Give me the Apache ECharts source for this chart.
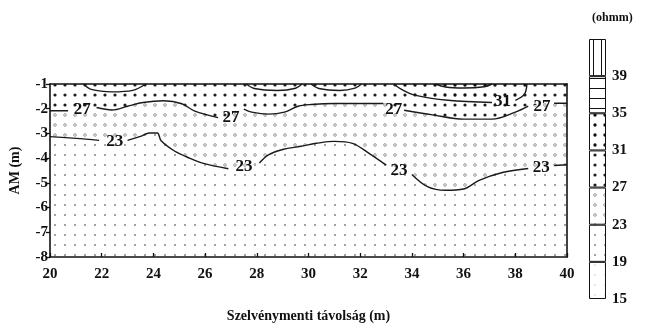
<!DOCTYPE html>
<html>
<head>
<meta charset="utf-8">
<title>AM szelvény</title>
<script src="https://cdn.jsdelivr.net/npm/echarts@6/dist/echarts.min.js"></script>
<style>
	html, body { margin: 0; padding: 0; background: #fff; }
	#chart { width: 653px; height: 328px; }
</style>
</head>
<body>
<div id="chart"></div>
<script>
// tengelyek
var xTicks = [20, 22, 24, 26, 28, 30, 32, 34, 36, 38, 40];
var yTicks = [-8, -7, -6, -5, -4, -3, -2, -1];
var legendTicks = [15, 19, 23, 27, 31, 35, 39];
var legendEdges = [15, 19, 23, 27, 31, 35, 39, 43];

// 23 ohmm izovonal (a feliratoknal megszakad)
var c23 = [
	[[20, -3.13], [21, -3.2], [21.9, -3.28]],
	[[23.0, -3.28], [23.5, -3.12], [23.85, -2.98], [24.15, -2.98], [24.3, -3.3], [24.8, -3.7], [25.4, -4.0], [25.9, -4.2], [26.9, -4.43]],
	[[28.1, -4.2], [28.45, -3.87], [29.0, -3.65], [29.7, -3.52], [30.3, -3.4], [31.0, -3.32], [31.7, -3.4], [32.4, -3.85], [33.0, -4.28]],
	[[34.0, -4.66], [34.6, -5.15], [35.3, -5.3], [36.0, -5.25], [36.6, -4.9], [37.5, -4.58], [38.5, -4.42]],
	[[39.5, -4.3], [40, -4.27]]
];
var c23Labels = [[22.5, -3.32], [27.5, -4.33], [33.5, -4.5], [39.0, -4.4]];

// 27 ohmm izovonal
var c27 = [
	[[20, -2.08], [20.7, -2.08]],
	[[21.8, -1.95], [22.4, -2.05], [23.0, -1.9], [23.6, -1.75], [24.4, -1.68], [25.1, -1.8], [25.6, -2.1], [26.5, -2.36]],
	[[27.5, -2.02], [27.8, -2.14], [28.45, -2.22], [29.07, -2.14], [29.6, -1.9], [30.1, -1.83], [31.0, -1.79], [32.9, -1.79]],
	[[33.7, -2.06], [34.8, -2.25], [36.0, -2.42], [37.1, -2.42], [38.0, -2.14], [38.5, -1.9]],
	[[39.5, -1.78], [40, -1.78]]
];
var c27Labels = [[21.25, -2.02], [27.0, -2.34], [33.3, -2.02], [39.03, -1.9]];

// 31 ohmm izovonal (felul zart)
var c31 = [
	[[33.3, -1.0], [33.6, -1.22], [34.1, -1.45], [35.4, -1.66], [37.1, -1.75]],
	[[38.0, -1.66], [38.35, -1.42], [38.45, -1.0]]
];
var c31Labels = [[37.5, -1.7]];

// felirat nelkuli kis zart gorbek a felszin kozeleben
var topLoops = [
	[[21.3, -1], [21.6, -1.22], [22.4, -1.32], [23.2, -1.26], [23.7, -1]],
	[[27.6, -1], [27.9, -1.18], [28.8, -1.26], [29.5, -1.17], [29.75, -1]],
	[[30.1, -1], [30.4, -1.18], [31.2, -1.26], [31.8, -1.17], [32.05, -1]],
	[[34.9, -1], [35.3, -1.12], [36.0, -1.16], [36.8, -1.11], [37.1, -1]]
];

// mintazatok (pontozas, vonalkazas)
function tile(size, draw) {
	var c = document.createElement('canvas');
	c.width = size; c.height = size;
	var g = c.getContext('2d');
	g.fillStyle = '#fff';
	g.fillRect(0, 0, size, size);
	draw(g);
	return { image: c, repeat: 'repeat' };
}
function dot(r, col) {
	return function (g) { g.fillStyle = col; g.beginPath(); g.arc(5, 5, r, 0, Math.PI * 2); g.fill(); };
}
var pat = {
	faint: tile(10, dot(0.7, '#bdbdbd')),
	low: tile(10, dot(1.0, '#858585')),
	mid: tile(10, function (g) {
		g.strokeStyle = '#9a9a9a'; g.lineWidth = 1;
		g.beginPath(); g.arc(5, 5, 1.3, 0, Math.PI * 2); g.stroke();
	}),
	high: tile(10, dot(1.6, '#1e1e1e')),
	top: tile(10, dot(1.7, '#111')),
	hLines: tile(10, function (g) {
		g.strokeStyle = '#111'; g.lineWidth = 1;
		g.beginPath(); g.moveTo(0, 8.5); g.lineTo(10, 8.5); g.stroke();
	}),
	vLines: tile(8, function (g) {
		g.strokeStyle = '#111'; g.lineWidth = 1;
		g.beginPath(); g.moveTo(1.5, 0); g.lineTo(1.5, 8); g.stroke();
	})
};
var legendPats = [pat.faint, pat.low, pat.mid, pat.high, pat.top, pat.hLines, pat.vLines];

var font = 'Liberation Serif';
var series = [];

function joinSegs(segs) {
	var out = [];
	segs.forEach(function (s) { out = out.concat(s); });
	return out;
}
function areaSeries(pts, color, origin) {
	return {
		type: 'line', data: pts, smooth: 0.35, symbol: 'none', silent: true, z: 1,
		lineStyle: { width: 0 },
		areaStyle: { color: color, opacity: 1, origin: origin }
	};
}
function contourSeries(seg) {
	return {
		type: 'line', data: seg, smooth: 0.35, symbol: 'none', silent: true, z: 3,
		lineStyle: { color: '#1a1a1a', width: 1.4 }
	};
}
function labelSeries(pts, level) {
	return {
		type: 'scatter', data: pts, symbolSize: 1, silent: true, z: 4,
		itemStyle: { opacity: 1, color: 'transparent' },
		label: {
			show: true, position: 'inside', formatter: String(level),
			fontFamily: font, fontWeight: 'bold', fontSize: 17, color: '#111',
			textBorderWidth: 0, opacity: 1
		}
	};
}

// savok kitoltese
series.push(areaSeries(joinSegs(c23), pat.low, 'start'));
series.push(areaSeries(joinSegs(c23), pat.mid, 'end'));
series.push(areaSeries(joinSegs(c27), pat.high, 'end'));
series.push(areaSeries(joinSegs(c31), pat.top, 'end'));

// izovonalak
c23.concat(c27, c31, topLoops).forEach(function (s) { series.push(contourSeries(s)); });
series.push(labelSeries(c23Labels, 23));
series.push(labelSeries(c27Labels, 27));
series.push(labelSeries(c31Labels, 31));

// jelmagyarazat oszlop
series.push({
	type: 'bar', xAxisIndex: 2, yAxisIndex: 2, stack: 'leg', barWidth: '100%', silent: true,
	data: [legendEdges[0]], itemStyle: { color: 'transparent', borderWidth: 0 }
});
for (var i = 0; i < legendEdges.length - 1; i++) {
	series.push({
		type: 'bar', xAxisIndex: 2, yAxisIndex: 2, stack: 'leg', barWidth: '100%', silent: true,
		data: [legendEdges[i + 1] - legendEdges[i]],
		itemStyle: { color: legendPats[i], borderColor: '#111', borderWidth: 1 }
	});
}

var labelStyle = { fontFamily: font, fontWeight: 'bold', fontSize: 15, color: '#111' };
var lineOnly = {
	axisLine: { show: true, lineStyle: { color: '#111', width: 1.6 } },
	axisTick: { show: false }, axisLabel: { show: false }, splitLine: { show: false }
};

var option = {
	animation: false,
	backgroundColor: '#fff',
	title: {
		text: '(ohmm)', left: 587, top: 7,
		textStyle: { fontFamily: font, fontWeight: 'bold', fontSize: 12, color: '#111' }
	},
	grid: [
		{ left: 49, top: 84, width: 518, height: 178 },
		{ left: 589, top: 39, width: 17, height: 260 }
	],
	xAxis: [
		{
			gridIndex: 0, type: 'value', min: xTicks[0], max: xTicks[xTicks.length - 1], z: 10,
			axisLine: { show: true, lineStyle: { color: '#111', width: 1.6 } },
			axisTick: { show: true, inside: true, length: 4, customValues: xTicks, lineStyle: { color: '#111', width: 1.3 } },
			axisLabel: Object.assign({ margin: 10, customValues: xTicks }, labelStyle),
			splitLine: { show: false },
			name: 'Szelvénymenti távolság (m)', nameLocation: 'middle', nameGap: 52,
			nameTextStyle: { fontFamily: font, fontWeight: 'bold', fontSize: 14, color: '#111' }
		},
		Object.assign({ gridIndex: 0, type: 'value', position: 'top', min: xTicks[0], max: xTicks[xTicks.length - 1], z: 10 }, lineOnly),
		{ gridIndex: 1, type: 'category', data: ['ohmm'], show: false }
	],
	yAxis: [
		{
			gridIndex: 0, type: 'value', min: yTicks[0], max: yTicks[yTicks.length - 1], z: 10,
			axisLine: { show: true, lineStyle: { color: '#111', width: 1.6 } },
			axisTick: { show: true, length: 4, customValues: yTicks, lineStyle: { color: '#111', width: 1.3 } },
			axisLabel: Object.assign({ margin: 2, customValues: yTicks }, labelStyle),
			splitLine: { show: false },
			name: 'AM (m)', nameLocation: 'middle', nameGap: 28, nameRotate: 90,
			nameTextStyle: { fontFamily: font, fontWeight: 'bold', fontSize: 14, color: '#111' }
		},
		Object.assign({ gridIndex: 0, type: 'value', position: 'right', min: yTicks[0], max: yTicks[yTicks.length - 1], z: 10 }, lineOnly),
		{
			gridIndex: 1, type: 'value', position: 'right', min: legendEdges[0], max: legendEdges[legendEdges.length - 1],
			axisLine: { show: false }, axisTick: { show: false }, splitLine: { show: false },
			axisLabel: Object.assign({ margin: 6, customValues: legendTicks }, labelStyle)
		}
	],
	series: series
};

var chart = echarts.init(document.getElementById('chart'));
chart.setOption(option);
</script>
</body>
</html>
